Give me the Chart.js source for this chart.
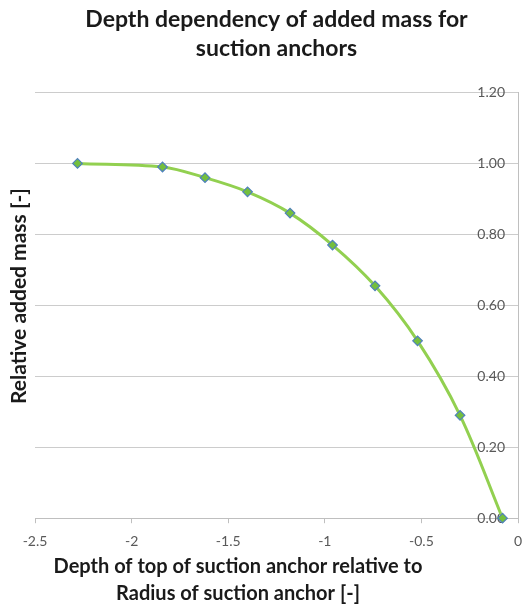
<!DOCTYPE html>
<html>
<head>
<meta charset="utf-8">
<script src="https://cdn.jsdelivr.net/npm/chart.js@4.4.1/dist/chart.umd.min.js"></script>
<style>
  html, body { margin: 0; padding: 0; background: #ffffff; overflow: hidden; }
  #wrap { width: 524px; height: 610px; position: relative; }
</style>
</head>
<body>
<div id="wrap"><canvas id="chart" width="524" height="610"></canvas></div>
<script>
// Depth of top of anchor relative to its radius, and the relative added mass
const depthRatio = [-2.28, -1.84, -1.62, -1.40, -1.18, -0.96, -0.74, -0.52, -0.30, -0.08];
const relativeAddedMass = [1.00, 0.99, 0.96, 0.92, 0.86, 0.77, 0.655, 0.50, 0.29, 0.00];

// Axis tick values
const xTickValues = [-2.5, -2, -1.5, -1, -0.5, 0];
const yTickValues = [0, 0.2, 0.4, 0.6, 0.8, 1.0, 1.2];

// Text
const chartTitle = ['Depth dependency of added mass for', 'suction anchors'];
const xAxisTitle = ['Depth of top of suction anchor relative to', 'Radius of suction anchor [-]'];
const yAxisTitle = 'Relative added mass [-]';

const FONT = 'Lato, "Open Sans", sans-serif';

// Axis titles drawn in Excel-like positions
const axisTitlePlugin = {
  id: 'axisTitles',
  afterDraw(chart) {
    const ctx = chart.ctx;
    ctx.save();
    ctx.fillStyle = '#1a1a1a';
    ctx.textAlign = 'center';
    ctx.textBaseline = 'middle';
    ctx.font = 'bold 20px ' + FONT;
    ctx.fillText(xAxisTitle[0], 238, 567);
    ctx.fillText(xAxisTitle[1], 238, 594);
    ctx.font = 'bold 21px ' + FONT;
    ctx.translate(19, 296);
    ctx.rotate(-Math.PI / 2);
    ctx.fillText(yAxisTitle, 0, 0);
    ctx.restore();
  }
};

const points = depthRatio.map((x, i) => ({ x: x, y: relativeAddedMass[i] }));

new Chart(document.getElementById('chart'), {
  type: 'line',
  data: {
    datasets: [{
      data: points,
      borderColor: '#92d050',
      borderWidth: 3,
      tension: 0.35,
      pointStyle: 'rectRot',
      pointRadius: 4.8,
      pointBackgroundColor: '#74bf3d',
      pointBorderColor: '#4f81bd',
      pointBorderWidth: 1.2,
      clip: false
    }]
  },
  options: {
    responsive: false,
    animation: false,
    devicePixelRatio: 1,
    layout: { padding: { left: 35, right: 3, top: 0, bottom: 50 } },
    plugins: {
      legend: { display: false },
      tooltip: { enabled: false },
      title: {
        display: true,
        text: chartTitle,
        fullSize: false,
        color: '#1a1a1a',
        font: { family: FONT, size: 23, weight: 'bold', lineHeight: 1.25 },
        padding: { top: 5, bottom: 30 }
      }
    },
    scales: {
      x: {
        type: 'linear',
        position: 'bottom',
        min: -2.5,
        max: 0,
        afterBuildTicks: (axis) => { axis.ticks = xTickValues.map(v => ({ value: v })); },
        afterFit: (axis) => { axis.paddingLeft = 0; axis.paddingRight = 0; },
        grid: { display: true, drawOnChartArea: false, drawTicks: true, tickLength: 5, color: '#bfbfbf' },
        border: { display: true, color: '#bfbfbf', width: 1 },
        ticks: {
          color: '#595959',
          font: { family: FONT, size: 14 },
          padding: 10,
          maxRotation: 0,
          callback: (v) => String(v)
        }
      },
      y: {
        type: 'linear',
        position: 'right',
        min: 0,
        max: 1.2,
        afterBuildTicks: (axis) => { axis.ticks = yTickValues.map(v => ({ value: v })); },
        afterFit: (axis) => { axis.width = 0; },
        grid: { display: true, drawTicks: false, color: '#cccccc' },
        border: { display: true, color: '#bfbfbf', width: 1 },
        ticks: {
          mirror: true,
          padding: -13,
          color: '#595959',
          font: { family: FONT, size: 14 },
          callback: (v) => v.toFixed(2)
        }
      }
    }
  },
  plugins: [axisTitlePlugin]
});
</script>
</body>
</html>
